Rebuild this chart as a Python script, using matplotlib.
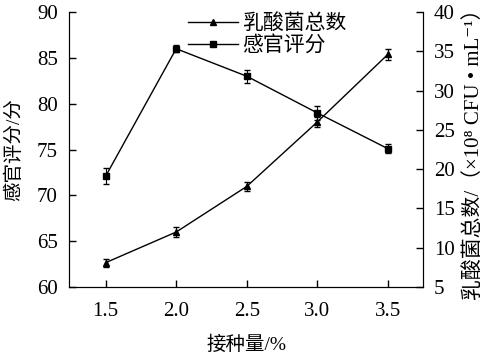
import numpy as np
import matplotlib
matplotlib.use('Agg')
import matplotlib.pyplot as plt
from matplotlib.lines import Line2D

plt.rcParams['font.family'] = ['Liberation Serif', 'Noto Sans CJK SC', 'DejaVu Serif']

dose = [1.5, 2.0, 2.5, 3.0, 3.5]
score = [72.1, 86.0, 83.0, 79.0, 75.1]
score_err = [0.9, 0.4, 0.7, 0.8, 0.5]
lab = [8.1, 12.0, 17.8, 26.0, 34.6]
lab_err = [0.5, 0.6, 0.6, 0.6, 0.7]

fig = plt.figure(figsize=(4.94, 3.58), dpi=100)
ax = fig.add_axes([0.1397, 0.1983, 0.7166, 0.768])
ax2 = ax.twinx()

ax2.errorbar(dose, lab, yerr=lab_err, color='black', marker='^', ms=5,
             lw=1, capsize=2, elinewidth=0.8)
ax.errorbar(dose, score, yerr=score_err, color='black', marker='s', ms=5,
            lw=1, capsize=2, elinewidth=0.8)

ax.set_xlim(1.24, 3.75)
ax.set_ylim(60, 90)
ax2.set_ylim(5, 40)
ax.set_xticks(dose)
ax.set_xticklabels(['1.5', '2.0', '2.5', '3.0', '3.5'])
ax.set_yticks(np.arange(60, 91, 5))
ax2.set_yticks(np.arange(5, 41, 5))

for a in (ax, ax2):
    a.spines['top'].set_visible(False)
    a.tick_params(direction='in', length=5, width=1, labelsize=15, pad=8)
ax.tick_params(axis='x', pad=11)

ax.set_xlabel('接种量/%', fontsize=14, labelpad=10)
ax.set_ylabel('感官评分/分', fontsize=14, labelpad=10)
ax2.set_ylabel('乳酸菌总数/（×10⁸ CFU • mL⁻¹）', fontsize=15, labelpad=6)

h1 = Line2D([], [], color='black', marker='^', ms=4, lw=1)
h2 = Line2D([], [], color='black', marker='s', ms=4, lw=1)
ax.legend([h1, h2], ['乳酸菌总数', '感官评分'], loc='upper center',
          bbox_to_anchor=(0.56, 1.06), frameon=False, fontsize=15,
          handlelength=2.4, handletextpad=0.2, labelspacing=0.1)

fig.savefig('out.png', dpi=100)
